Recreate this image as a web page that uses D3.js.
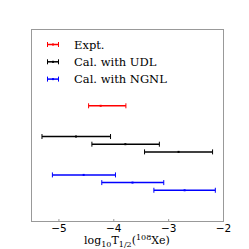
<!DOCTYPE html>
<html>
<head>
<meta charset="utf-8">
<script src="https://cdn.jsdelivr.net/npm/d3@7"></script>
<style>
  body { margin: 0; background: #fff; }
</style>
</head>
<body>
<div id="chart"></div>
<script>
// error bars: [low, center, high] in log10 T1/2, row = vertical slot
const seriesNames = ["Expt.", "Cal. with UDL", "Cal. with NGNL"];
const seriesColors = ["#ff0000", "#000000", "#0000ff"];
const exptBars = [[-4.45, -4.23, -3.77]];
const udlBars = [[-5.30, -4.68, -4.05], [-4.39, -3.78, -3.16], [-3.43, -2.81, -2.19]];
const ngnlBars = [[-5.11, -4.54, -3.96], [-4.21, -3.65, -3.08], [-3.26, -2.70, -2.14]];
const exptRows = [6];
const udlRows = [4.4, 4.0, 3.6];
const ngnlRows = [2.4, 2.0, 1.6];
const xTicks = [-5, -4, -3, -2];

const width = 249, height = 249;
const margin = { top: 29, right: 26, bottom: 28, left: 31 };

const svg = d3.select("#chart").append("svg")
  .attr("width", width)
  .attr("height", height);

const x = d3.scaleLinear()
  .domain([-5.5, -2])
  .range([margin.left, width - margin.right]);

const y = d3.scaleLinear()
  .domain([0, 10])
  .range([height - margin.bottom, margin.top]);

// frame
svg.append("rect")
  .attr("x", margin.left + 0.5)
  .attr("y", margin.top + 0.5)
  .attr("width", width - margin.left - margin.right)
  .attr("height", height - margin.top - margin.bottom)
  .attr("fill", "none")
  .attr("stroke", "#999")
  .attr("stroke-width", 1);

// x axis, ticks point inward
const xAxis = svg.append("g")
  .attr("transform", `translate(0,${height - margin.bottom + 0.5})`)
  .call(d3.axisBottom(x).tickValues(xTicks).tickSize(-2.5).tickPadding(3)
    .tickFormat(d => String(d).replace("-", "\u2212")));
xAxis.select(".domain").remove();
xAxis.selectAll(".tick line").attr("stroke", "#999");
xAxis.selectAll(".tick text")
  .attr("fill", "#000")
  .style("font-family", "DejaVu Sans")
  .style("font-size", "10.5px");

// x label
const lbl = svg.append("text")
  .attr("x", 127)
  .attr("y", 244)
  .attr("text-anchor", "middle")
  .style("font-family", "DejaVu Serif")
  .style("font-size", "11px");
lbl.append("tspan").text("log");
lbl.append("tspan").attr("dy", 2.5).style("font-size", "8px").text("10");
lbl.append("tspan").attr("dy", -2.5).text("T");
lbl.append("tspan").attr("dy", 2.5).style("font-size", "8px").text("1/2");
lbl.append("tspan").attr("dy", -2.5).text("(");
lbl.append("tspan").attr("dy", -4).style("font-size", "8px").text("108");
lbl.append("tspan").attr("dy", 4).text("Xe)");

function drawBars(bars, rows, color) {
  const g = svg.append("g").attr("stroke", color).attr("fill", color);
  bars.forEach((b, i) => {
    const yy = y(rows[i]);
    g.append("line")
      .attr("x1", x(b[0])).attr("x2", x(b[2]))
      .attr("y1", yy).attr("y2", yy)
      .attr("stroke-width", 1.5);
    [b[0], b[2]].forEach(v => {
      g.append("line")
        .attr("x1", x(v)).attr("x2", x(v))
        .attr("y1", yy - 2.5).attr("y2", yy + 2.5)
        .attr("stroke-width", 1);
    });
    g.append("rect")
      .attr("x", x(b[1]) - 1).attr("y", yy - 1)
      .attr("width", 2).attr("height", 2)
      .attr("stroke", "none");
  });
}

drawBars(exptBars, exptRows, seriesColors[0]);
drawBars(udlBars, udlRows, seriesColors[1]);
drawBars(ngnlBars, ngnlRows, seriesColors[2]);

// legend
const legend = svg.append("g");
seriesNames.forEach((name, i) => {
  const ly = 44.5 + i * 17.3;
  const c = seriesColors[i];
  legend.append("line")
    .attr("x1", 47.5).attr("x2", 58.5).attr("y1", ly).attr("y2", ly)
    .attr("stroke", c).attr("stroke-width", 1.5);
  [47.5, 58.5].forEach(xx => {
    legend.append("line")
      .attr("x1", xx).attr("x2", xx).attr("y1", ly - 2.5).attr("y2", ly + 2.5)
      .attr("stroke", c).attr("stroke-width", 1);
  });
  legend.append("rect")
    .attr("x", 52).attr("y", ly - 1).attr("width", 2).attr("height", 2)
    .attr("fill", c);
  legend.append("text")
    .attr("x", 74).attr("y", ly + 4)
    .style("font-family", "DejaVu Serif")
    .style("font-size", "11.5px")
    .text(name);
});
</script>
</body>
</html>
